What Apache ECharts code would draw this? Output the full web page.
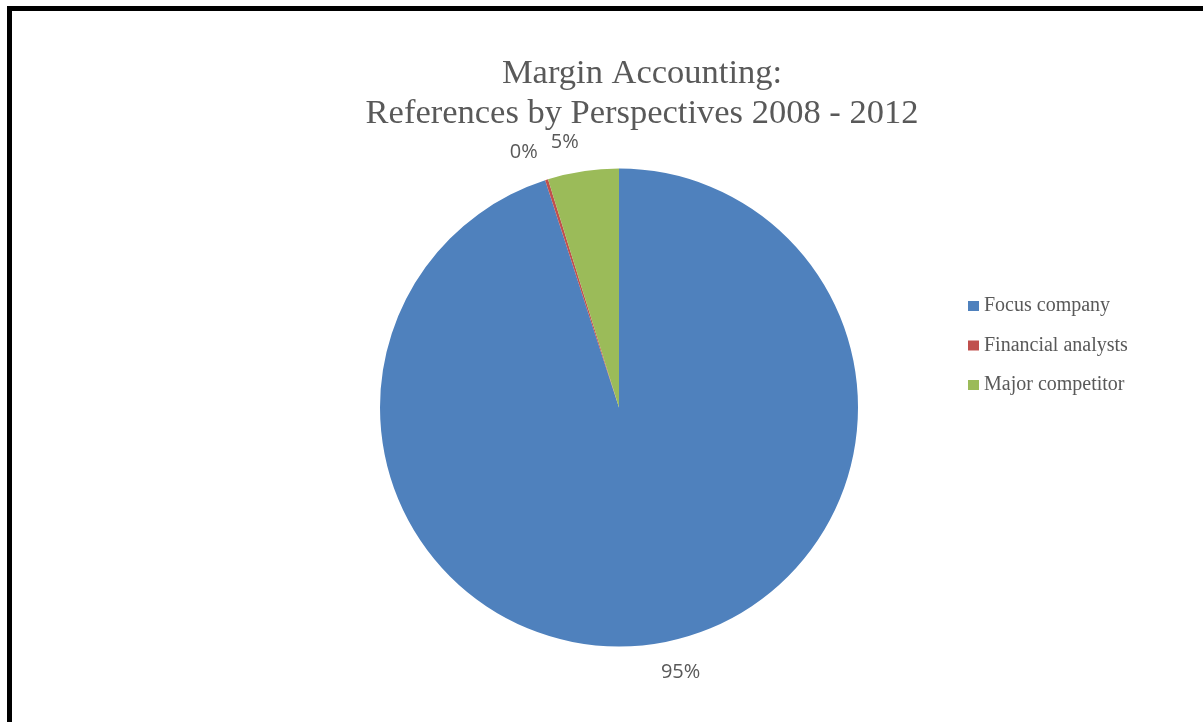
<!DOCTYPE html>
<html>
<head>
<meta charset="utf-8">
<style>
  html, body { margin: 0; padding: 0; background: #ffffff; overflow: hidden; }
  #chart { position: absolute; left: 0; top: 0; width: 1203px; height: 722px; }
  /* heavy black frame running off the right and bottom edges */
  #frame { position: absolute; left: 7px; top: 6px; width: 1300px; height: 800px;
           border: 5px solid #000; box-sizing: border-box; pointer-events: none; }
</style>
<script src="https://cdn.jsdelivr.net/npm/echarts@6/dist/echarts.min.js"></script>
</head>
<body>
<div id="chart"></div>
<div id="frame"></div>
<script>
// Share of references per perspective, 2008 - 2012 (percent)
const categories = ['Focus company', 'Financial analysts', 'Major competitor'];
const shares = [95.0, 0.2, 4.8];
const colors = ['#4F81BD', '#C0504D', '#9BBB59'];
const titleLines = ['Margin Accounting:', 'References by Perspectives 2008 - 2012'];

const chart = echarts.init(document.getElementById('chart'), null, { renderer: 'canvas' });

chart.setOption({
  animation: false,
  backgroundColor: 'transparent',
  title: {
    text: titleLines.join('\n'),
    left: 642,
    top: 54,
    padding: 0,
    textAlign: 'center',
    textStyle: {
      fontFamily: '"Liberation Serif", "Times New Roman", serif',
      fontWeight: 'normal',
      fontSize: 34.5,
      lineHeight: 40,
      color: '#595959'
    }
  },
  legend: {
    orient: 'vertical',
    left: 968,
    top: 296,
    padding: 0,
    icon: 'rect',
    itemWidth: 11,
    itemHeight: 10,
    itemGap: 19.5,
    selectedMode: false,
    data: categories,
    textStyle: {
      fontFamily: '"Liberation Serif", "Times New Roman", serif',
      fontSize: 20,
      lineHeight: 20,
      color: '#595959'
    }
  },
  series: [{
    type: 'pie',
    center: [619, 407.5],
    radius: 239,
    startAngle: 90,
    clockwise: true,
    avoidLabelOverlap: false,
    silent: true,
    itemStyle: { borderWidth: 0 },
    label: {
      show: true,
      position: 'outside',
      distanceToLabelLine: 0,
      formatter: p => Math.round(p.percent) + '%',
      fontFamily: '"Open Sans", sans-serif',
      fontSize: 20,
      color: '#595959'
    },
    labelLine: { show: false, length: 29, length2: 0 },
    data: categories.map((name, i) => ({
      name,
      value: shares[i],
      itemStyle: { color: colors[i] }
    }))
  }]
});
</script>
</body>
</html>
